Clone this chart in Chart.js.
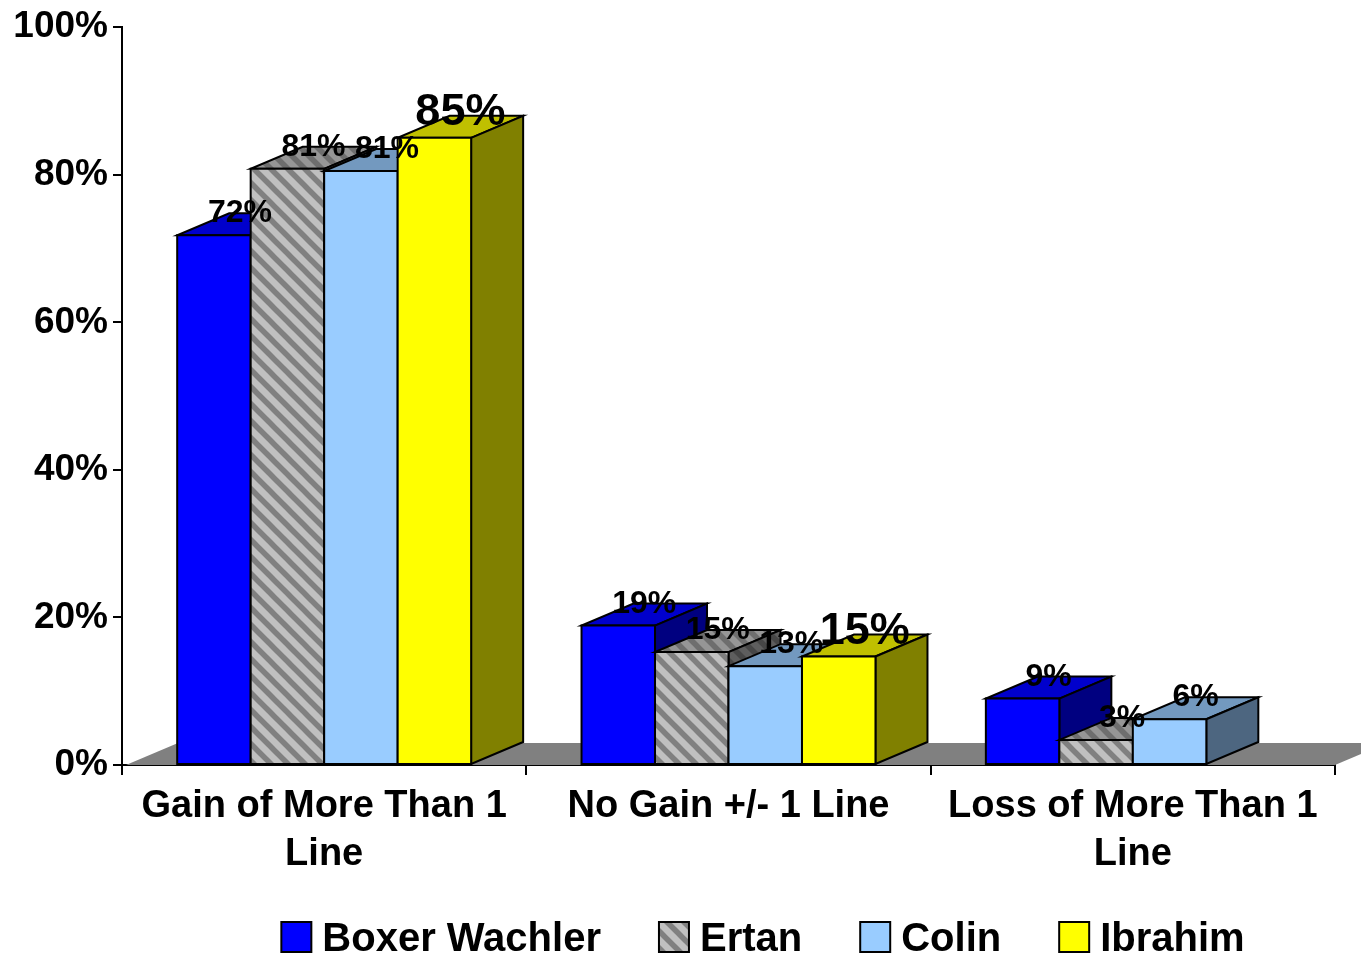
<!DOCTYPE html>
<html><head><meta charset="utf-8">
<script src="https://cdn.jsdelivr.net/npm/chart.js@4.4.1/dist/chart.umd.min.js"></script>
<style>html,body{margin:0;padding:0;background:#fff}#wrap{width:1361px;height:955px}</style>
</head><body><div id="wrap"><canvas id="c" width="1361" height="955"></canvas></div>
<script>
// ---- data ----
const categories = [['Gain of More Than 1', 'Line'], ['No Gain +/- 1 Line'], ['Loss of More Than 1', 'Line']];
const seriesNames = ['Boxer Wachler', 'Ertan', 'Colin', 'Ibrahim'];
const boxerWachler = [71.8, 18.9, 9.0];
const ertan = [80.8, 15.3, 3.4];
const colin = [80.5, 13.4, 6.2];
const ibrahim = [85.0, 14.7, null];
const yTickValues = [0, 20, 40, 60, 80, 100];

// ---- styles ----
const FONT = "'Liberation Sans', Arial, Helvetica, sans-serif";
Chart.defaults.font.family = FONT;
Chart.defaults.font.weight = 'bold';
Chart.defaults.color = '#000';

function stripePattern(bg, fg, size, w) {
  const c = document.createElement('canvas');
  c.width = size; c.height = size;
  const g = c.getContext('2d');
  g.fillStyle = bg; g.fillRect(0, 0, size, size);
  g.strokeStyle = fg; g.lineWidth = w; g.lineCap = 'square';
  for (let k = -1; k <= 1; k++) {
    g.beginPath(); g.moveTo(k * size, 0); g.lineTo(k * size + size, size); g.stroke();
  }
  return document.getElementById('c').getContext('2d').createPattern(c, 'repeat');
}

const faceStyles = [
  { front: '#0000FF', top: '#0000CC', side: '#000080', labelSize: 32 },
  { front: stripePattern('#C0C0C0', '#808080', 17, 5.5), top: stripePattern('#969696', '#6E6E6E', 17, 5.5), side: stripePattern('#5E5E5E', '#464646', 17, 5.5), labelSize: 32 },
  { front: '#99CCFF', top: '#7399BF', side: '#4D6680', labelSize: 32 },
  { front: '#FFFF00', top: '#C0C000', side: '#808000', labelSize: 45 }
];
const DX = 52, DY = 22;

function poly(ctx, pts, fill) {
  ctx.beginPath();
  ctx.moveTo(pts[0][0], pts[0][1]);
  for (let i = 1; i < pts.length; i++) ctx.lineTo(pts[i][0], pts[i][1]);
  ctx.closePath();
  ctx.fillStyle = fill; ctx.fill();
  ctx.lineWidth = 2; ctx.strokeStyle = '#000'; ctx.lineJoin = 'miter'; ctx.stroke();
}

const bar3d = {
  id: 'bar3d',
  beforeDatasetsDraw(chart) {
    const ctx = chart.ctx, a = chart.chartArea;
    const y0 = chart.scales.y.getPixelForValue(0);
    ctx.save();
    // floor
    ctx.beginPath();
    ctx.moveTo(a.left + 4, y0);
    ctx.lineTo(a.left + 4 + DX, y0 - DY);
    ctx.lineTo(a.right + DX, y0 - DY);
    ctx.lineTo(a.right, y0);
    ctx.closePath();
    ctx.fillStyle = '#808080'; ctx.fill();
    // bars, series in order left to right
    chart.data.datasets.forEach((ds, di) => {
      const st = faceStyles[di];
      chart.getDatasetMeta(di).data.forEach((el, i) => {
        if (ds.data[i] == null) return;
        const p = el.getProps(['x', 'y', 'base', 'width'], true);
        const l = p.x - p.width / 2, r = p.x + p.width / 2, t = p.y, b = p.base;
        poly(ctx, [[l, t], [r, t], [r + DX, t - DY], [l + DX, t - DY]], st.top);
        poly(ctx, [[r, t], [r + DX, t - DY], [r + DX, b - DY], [r, b]], st.side);
        poly(ctx, [[l, t], [r, t], [r, b], [l, b]], st.front);
      });
    });
    ctx.restore();
  },
  beforeDatasetDraw() { return false; },
  afterDatasetsDraw(chart) {
    const ctx = chart.ctx;
    ctx.save();
    ctx.fillStyle = '#000';
    ctx.textAlign = 'center';
    ctx.textBaseline = 'alphabetic';
    chart.data.datasets.forEach((ds, di) => {
      const meta = chart.getDatasetMeta(di);
      ctx.font = 'bold ' + faceStyles[di].labelSize + 'px ' + FONT;
      meta.data.forEach((el, i) => {
        const v = ds.data[i];
        if (v == null) return;
        const p = el.getProps(['x', 'y'], true);
        ctx.fillText(Math.round(v) + '%', p.x + DX / 2, p.y - DY / 2 - 2);
      });
    });
    ctx.restore();
  },
  afterDraw(chart) {
    // legend
    const ctx = chart.ctx;
    ctx.save();
    ctx.font = 'bold 40px ' + FONT;
    const box = 30, gapText = 11, gapItem = 58;
    const widths = seriesNames.map(n => ctx.measureText(n).width);
    const total = widths.reduce((s, w) => s + box + gapText + w, 0) + gapItem * (seriesNames.length - 1);
    let x = 763 - total / 2;
    const top = 922;
    seriesNames.forEach((n, i) => {
      ctx.fillStyle = faceStyles[i].front;
      ctx.fillRect(x, top, box, box);
      ctx.lineWidth = 2; ctx.strokeStyle = '#000';
      ctx.strokeRect(x, top, box, box);
      ctx.fillStyle = '#000';
      ctx.textAlign = 'left'; ctx.textBaseline = 'alphabetic';
      ctx.fillText(n, x + box + gapText, top + 29);
      x += box + gapText + widths[i] + gapItem;
    });
    ctx.restore();
  }
};

new Chart(document.getElementById('c'), {
  type: 'bar',
  data: {
    labels: categories,
    datasets: [
      { label: seriesNames[0], data: boxerWachler, backgroundColor: '#0000FF' },
      { label: seriesNames[1], data: ertan, backgroundColor: '#C0C0C0' },
      { label: seriesNames[2], data: colin, backgroundColor: '#99CCFF' },
      { label: seriesNames[3], data: ibrahim, backgroundColor: '#FFFF00' }
    ]
  },
  options: {
    responsive: false,
    devicePixelRatio: 1,
    animation: false,
    layout: { padding: { left: 0, right: 26, top: 24, bottom: 70 } },
    datasets: { bar: { categoryPercentage: 0.727, barPercentage: 1.0 } },
    plugins: { legend: { display: false }, tooltip: { enabled: false } },
    scales: {
      x: {
        ticks: { font: { size: 38, weight: 'bold', lineHeight: 1.25 }, color: '#000', padding: 8, maxRotation: 0, autoSkip: false },
        grid: { offset: true, drawOnChartArea: false, tickLength: 10, color: '#000', lineWidth: 2 },
        border: { color: '#000', width: 2 },
        afterFit(s) { s.height = 120; }
      },
      y: {
        min: 0, max: 100,
        afterBuildTicks(s) { s.ticks = yTickValues.map(v => ({ value: v })); },
        ticks: { callback: v => v + '%', font: { size: 37, weight: 'bold' }, color: '#000', padding: 5 },
        grid: { drawOnChartArea: false, tickLength: 9, color: '#000', lineWidth: 2 },
        border: { color: '#000', width: 2 },
        afterFit(s) { s.width = 122; }
      }
    }
  },
  plugins: [bar3d]
});
</script>
</body></html>
